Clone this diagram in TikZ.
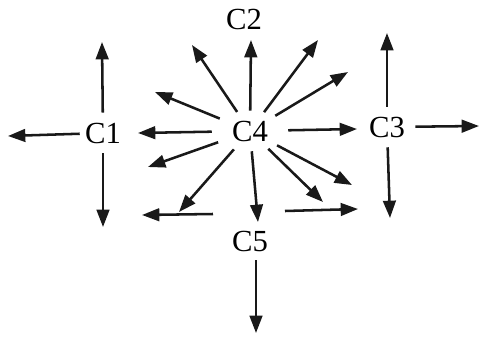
\documentclass[tikz,border=0pt]{standalone}
\usepackage{fontspec}
\setmainfont{Liberation Serif}
\usetikzlibrary{arrows.meta,shapes.geometric}

\begin{document}
\begin{tikzpicture}[x=0.75pt, y=-0.75pt,
    lbl/.style={font=\fontsize{23}{27}\selectfont, inner sep=0pt},
    arr/.style={line width=1.9pt, black!90, -{Triangle[length=13pt, width=9.5pt]}}]
        \useasboundingbox (0,0) rectangle (480,337);
        % criterios
        \node[lbl, minimum width=34.5pt, minimum height=30pt] (c1) at (103,133) {C1};
        \node[lbl] (c2) at (244,19) {C2};
        \node[lbl, minimum width=42pt, minimum height=30pt] (c3) at (387,127) {C3};
        \node[lbl, ellipse, minimum width=57pt, minimum height=30pt] (c4) at (250,131) {C4};
        \node[lbl, minimum height=28.5pt] (c5) at (250,241) {C5};
        % puntas libres
        \coordinate (c1l) at (8,136);
        \coordinate (c1u) at (102,42);
        \coordinate (c1d) at (103,227);
        \coordinate (c3u) at (387,33);
        \coordinate (c3r) at (479,126);
        \coordinate (c3d) at (390,218);
        \coordinate (c5d) at (256,333);
        % flechas de C1 y C3
        \draw[arr] (c1) -- (c1l);
        \draw[arr] (c1) -- (c1u);
        \draw[arr] (c1) -- (c1d);
        \draw[arr] (c3) -- (c3u);
        \draw[arr] (c3) -- (c3r);
        \draw[arr] (c3) -- (c3d);
        % flecha de C5
        \draw[arr] (c5d |- c5.south) -- (c5d);
        % estrella de C4
        \draw[arr] (c4) -- (251,40);
        \draw[arr] (c4) -- (318,40);
        \draw[arr] (c4) -- (348,72);
        \draw[arr] (c4) -- (357,129);
        \draw[arr] (c4) -- (352,185);
        \draw[arr] (c4) -- (323,202);
        \draw[arr] (c4) -- (258,222);
        \draw[arr] (c4) -- (179,212);
        \draw[arr] (c4) -- (148,167);
        \draw[arr] (c4) -- (138,133);
        \draw[arr] (c4) -- (155,92);
        \draw[arr] (c4) -- (192,45);
        % flechas horizontales de abajo
        \coordinate (bl0) at (213,214);
        \coordinate (bl1) at (142,215);
        \coordinate (br0) at (285,211);
        \coordinate (br1) at (358,209);
        \draw[arr] (bl0) -- (bl1);
        \draw[arr] (br0) -- (br1);
\end{tikzpicture}
\end{document}
